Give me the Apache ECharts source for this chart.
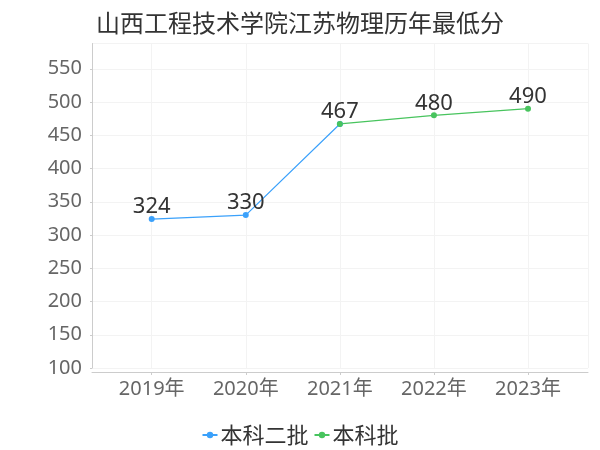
<!DOCTYPE html>
<html>
<head>
    <meta charset="utf-8">
    <title>山西工程技术学院江苏物理历年最低分</title>
    <script src="https://cdn.jsdelivr.net/npm/echarts@6/dist/echarts.min.js"></script>
    <style>
        html, body { margin: 0; padding: 0; background: #fff; }
        #chart1 { width: 600px; height: 450px; }
    </style>
</head>
<body>
<div id="chart1"></div>
<script type="text/javascript">
    // 数据
    var years = ['2019年', '2020年', '2021年', '2022年', '2023年'];
    var erpi = [324, 330, 467, '-', '-'];      // 本科二批
    var benke = ['-', '-', 467, 480, 490];     // 本科批
    var yMin = 100, yMax = 588, yStep = 50;

    var fontNum = '"Noto Sans", "Noto Sans CJK SC", sans-serif';
    var fontCn = '"Noto Sans CJK SC", sans-serif';
    var gridColor = '#f3f3f3';

    var myChart1 = echarts.init(document.getElementById('chart1'));
    myChart1.setOption({
        animation: false,
        title: {
            text: '山西工程技术学院江苏物理历年最低分',
            left: 'center',
            top: 6,
            textStyle: { fontSize: 24, fontWeight: 'normal', color: '#333', fontFamily: fontCn }
        },
        legend: {
            data: ['本科二批', '本科批'],
            left: 'center',
            top: 419,
            itemWidth: 15,
            itemHeight: 8,
            itemGap: 5,
            textStyle: { fontSize: 22, color: '#333', fontFamily: fontCn, padding: [0, 0, 0, -2] }
        },
        grid: [
            { left: 92, right: 12, top: 43.5, bottom: 82 },
            { left: 151.7, right: 72, top: 43.5, bottom: 82 }
        ],
        xAxis: [
            {
                gridIndex: 0, type: 'value', min: 0, max: 1, interval: 1, offset: 4,
                axisLine: { show: true, lineStyle: { color: '#ccc' } },
                axisTick: { show: false },
                axisLabel: { show: false },
                splitLine: { show: true, lineStyle: { color: gridColor } }
            },
            {
                gridIndex: 1, type: 'category', data: years, boundaryGap: false, offset: 4,
                axisLine: { show: false },
                axisTick: { show: true, length: 3, lineStyle: { color: '#ccc' } },
                axisLabel: { fontSize: 20, color: '#666', margin: 7, fontFamily: fontNum },
                splitLine: { show: true, lineStyle: { color: gridColor } }
            }
        ],
        yAxis: [
            {
                gridIndex: 0, type: 'value', min: yMin, max: yMax, interval: yStep, offset: 4,
                axisLine: { show: true, lineStyle: { color: '#ccc' } },
                axisTick: { show: true, length: 2, lineStyle: { color: '#ccc' } },
                axisLabel: { fontSize: 20, color: '#666', margin: 6, showMaxLabel: false, fontFamily: fontNum },
                splitLine: { show: true, lineStyle: { color: gridColor } }
            },
            {
                gridIndex: 1, type: 'value', min: yMin, max: yMax, interval: yStep, show: false
            }
        ],
        series: [
            {
                name: '本科二批',
                type: 'line',
                xAxisIndex: 1, yAxisIndex: 1,
                data: erpi,
                symbol: 'circle',
                symbolSize: 6,
                color: '#3ba1fb',
                lineStyle: { width: 1.2 },
                label: {
                    show: true, position: 'top', distance: -2,
                    fontSize: 22, color: '#333', fontFamily: fontNum,
                    formatter: function (p) { return p.dataIndex < 2 ? p.value : ''; }
                }
            },
            {
                name: '本科批',
                type: 'line',
                xAxisIndex: 1, yAxisIndex: 1,
                data: benke,
                symbol: 'circle',
                symbolSize: 6,
                color: '#48c45e',
                lineStyle: { width: 1.2 },
                label: {
                    show: true, position: 'top', distance: -2,
                    fontSize: 22, color: '#333', fontFamily: fontNum
                }
            }
        ]
    });
</script>
</body>
</html>
